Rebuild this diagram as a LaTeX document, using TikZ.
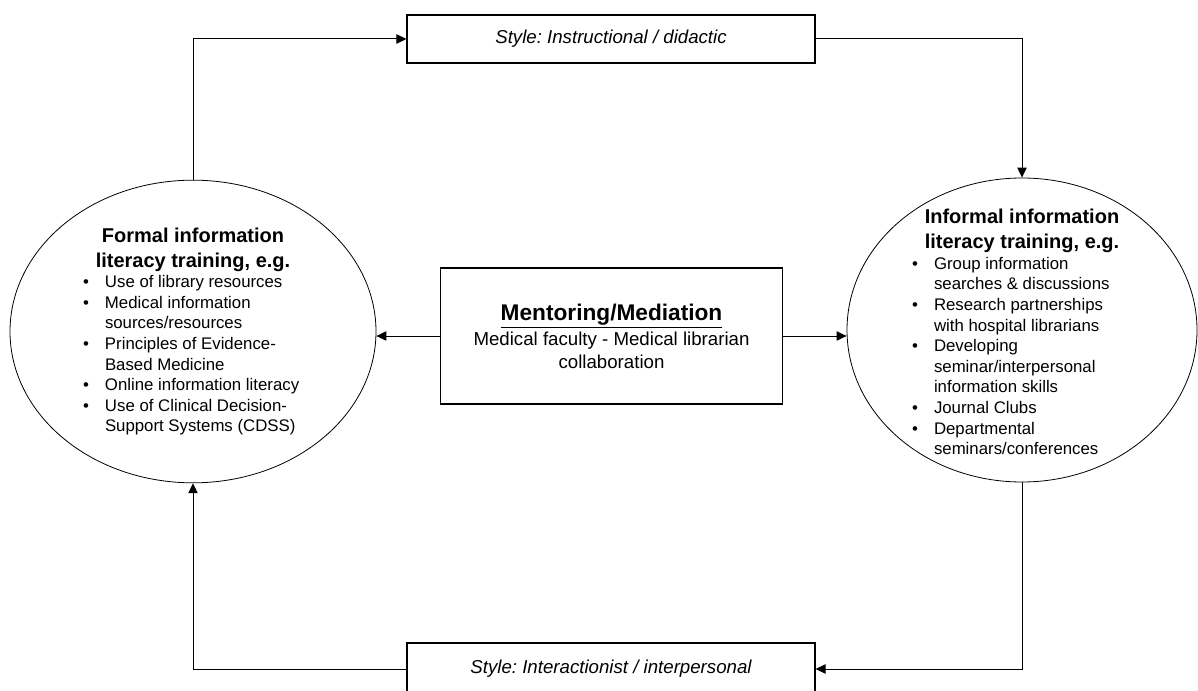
\documentclass[tikz,border=0pt]{standalone}
\usepackage{fontspec}
\setmainfont{Liberation Sans}
\usetikzlibrary{arrows.meta,shapes.geometric}
\frenchspacing

% bulleted and continued lines inside the ellipses
\newcommand{\li}[1]{\makebox[165pt][l]{\makebox[16.5pt][l]{\textbullet}#1}}
\newcommand{\lc}[1]{\makebox[165pt][l]{\hspace*{16.5pt}#1}}
\newcommand{\fieldtitle}[1]{{\bfseries\fontsize{15pt}{18.75pt}\selectfont #1}}

\begin{document}
\begin{tikzpicture}[x=0.75pt, y=-0.75pt, >={Triangle[length=7.5pt,width=7pt]},
	stylebox/.style={draw, line width=0.8pt, minimum width=306pt, inner sep=0pt, font={\fontsize{14pt}{17pt}\selectfont\itshape}},
	field/.style={ellipse, draw, line width=0.6pt, inner sep=0pt},
	fieldtext/.style={inner sep=0pt, align=center, font={\fontsize{12.6pt}{15.45pt}\selectfont\lineskiplimit=-20pt}},
	hub/.style={draw, line width=0.8pt, minimum width=257pt, minimum height=102pt, inner sep=0pt, align=center, font={\fontsize{14pt}{17.25pt}\selectfont\lineskiplimit=-20pt}},
	link/.style={->, line width=0.75pt}]

		\useasboundingbox (0,0) rectangle (1198,691);

		\node[hub] (mentor) at (611.5,336) {{\bfseries\fontsize{17pt}{21pt}\selectfont\underline{Mentoring/Mediation}}\\[1.5pt]
			Medical faculty - Medical librarian\\ collaboration};

		% left ellipse and its text
		\node[field, minimum width=274.5pt, minimum height=227pt] (formal) at (193,331.5) {};
		\node[fieldtext] (formaltext) at (formal) {%
			\fieldtitle{Formal information}\\[3.3pt]
			\fieldtitle{literacy training, e.g.}\\
			\li{Use of library resources}\\
			\li{Medical information}\\
			\lc{sources/resources}\\
			\li{Principles of Evidence-}\\
			\lc{Based Medicine}\\
			\li{Online information literacy}\\
			\li{Use of Clinical Decision-}\\
			\lc{Support Systems (CDSS)}};

		% right ellipse and its text
		\node[field, minimum width=262.5pt, minimum height=228pt] (informal) at (1022,330) {};
		\node[fieldtext] (informaltext) at ([yshift=-1.5pt]informal) {%
			\fieldtitle{Informal information}\\[3.3pt]
			\fieldtitle{literacy training, e.g.}\\
			\li{Group information}\\
			\lc{searches \& discussions}\\
			\li{Research partnerships}\\
			\lc{with hospital librarians}\\
			\li{Developing}\\
			\lc{seminar/interpersonal}\\
			\lc{information skills}\\
			\li{Journal Clubs}\\
			\li{Departmental}\\
			\lc{seminars/conferences}};

		\node[stylebox, minimum height=36pt] (instr) at (611,39) {Style: Instructional / didactic};
		\node[stylebox, minimum height=39pt] (inter) at (611,669) {Style: Interactionist / interpersonal};

		\draw[link] (formal.north) |- (instr.west);
		\draw[link] (instr.east) -| (informal.north);
		\draw[link] (informal.south) |- (inter.east);
		\draw[link] (inter.west) -| (formal.south);
		\draw[link] (mentor.west) -- (mentor.west -| formal.east);
		\draw[link] (mentor.east) -- (mentor.east -| informal.west);

\end{tikzpicture}
\end{document}
